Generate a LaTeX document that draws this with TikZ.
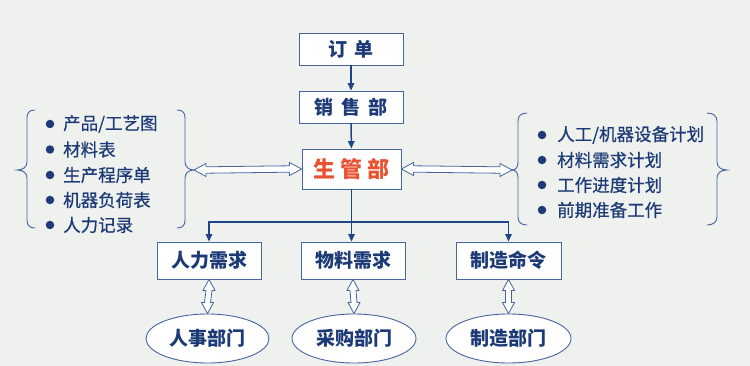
\documentclass[tikz,border=0pt]{standalone}
\usepackage{fontspec}
\setmainfont{Noto Sans CJK SC}
\newfontfamily\listfont[FakeBold=0.5]{Noto Sans CJK SC}
\usetikzlibrary{arrows.meta,shapes.geometric,calc}
\definecolor{bg}{RGB}{238,241,238}
\definecolor{tblue}{RGB}{28,58,118}
\definecolor{bblue}{RGB}{70,100,160}
\definecolor{lblue}{RGB}{30,70,135}
\definecolor{ored}{RGB}{232,82,48}
\newcommand\hollowH[2]{\draw[hol] let \p1=(#1), \p2=(#2) in (\x1,\y1) -- (\x1+12pt,\y1+6.5pt) -- (\x1+12pt,\y1+3.2pt) -- (\x2-12pt,\y2+3.2pt) -- (\x2-12pt,\y2+6.5pt) -- (\x2,\y2) -- (\x2-12pt,\y2-6.5pt) -- (\x2-12pt,\y2-3.2pt) -- (\x1+12pt,\y1-3.2pt) -- (\x1+12pt,\y1-6.5pt) -- cycle;}
\newcommand\hollowV[2]{\draw[hol] let \p1=(#1), \p2=(#2) in (\x1,\y1) -- (\x1+6pt,\y1-11pt) -- (\x1+3pt,\y1-11pt) -- (\x2+3pt,\y2+11pt) -- (\x2+6pt,\y2+11pt) -- (\x2,\y2) -- (\x2-6pt,\y2+11pt) -- (\x2-3pt,\y2+11pt) -- (\x1-3pt,\y1-11pt) -- (\x1-6pt,\y1-11pt) -- cycle;}
\tikzset{
  box/.style={draw=bblue, line width=0.9pt, fill=white, text=tblue, font=\bfseries\fontsize{19}{19}\selectfont, inner sep=0pt},
  ell/.style={ellipse, draw=bblue, line width=0.9pt, fill=white, text=tblue, font=\bfseries\fontsize{19}{19}\selectfont, inner sep=0pt},
  conn/.style={draw=lblue, line width=1.5pt, -{Triangle[length=7.5pt,width=6.5pt]}},
  hol/.style={draw=bblue, line width=0.8pt, fill=white, line join=miter},
  brc/.style={draw=bblue, line width=0.9pt},
  bul/.style={circle, fill=tblue, minimum size=8.5pt, inner sep=0pt},
  itm/.style={anchor=west, text=tblue, font=\listfont\fontsize{17.5}{17.5}\selectfont, inner sep=0pt},
}
\begin{document}
\begin{tikzpicture}[x=1pt,y=-1pt]
\fill[bg] (0,0) rectangle (750,366);
\useasboundingbox (0,0) rectangle (750,366);
% main boxes
\node[box, minimum width=104pt, minimum height=32pt] (order) at (351,49) {订\hspace{0.4em}单};
\node[box, minimum width=104pt, minimum height=32pt] (sales) at (351,107) {销\hspace{0.4em}售\hspace{0.4em}部};
\node[box, minimum width=99pt, minimum height=40pt, text=ored, font=\bfseries\fontsize{22}{22}\selectfont] (pmc) at (351.5,169) {生\hspace{0.22em}管\hspace{0.22em}部};
\node[box, minimum width=104pt, minimum height=37pt] (b1) at (209,260.5) {人力需求};
\node[box, minimum width=104pt, minimum height=37pt] (b2) at (353,260.5) {物料需求};
\node[box, minimum width=105pt, minimum height=37pt] (b3) at (508.5,260.5) {制造命令};
\node[ell, minimum width=123pt, minimum height=49pt] (e1) at (207.5,338.5) {人事部门};
\node[ell, minimum width=124pt, minimum height=49pt] (e2) at (354,338.5) {采购部门};
\node[ell, minimum width=125pt, minimum height=49pt] (e3) at (508.5,338.5) {制造部门};
% connectors
\draw[conn] (order) -- (sales);
\draw[conn] (sales) -- (pmc);
\coordinate (j) at (351,222);
\draw[conn] (pmc.south) -- (pmc.south |- b2.north);
\draw[conn] (j) -| (b1.north);
\draw[conn] (j) -| (b3.north);
\hollowV{b1.south}{e1.north}
\hollowV{b2.south}{e2.north}
\hollowV{b3.south}{e3.north}
% braces
\draw[brc] (35,110) .. controls (29,110) and (27,113) .. (27,118) -- (27,162) .. controls (27,167) and (23,170) .. (17,170) .. controls (23,170) and (27,173) .. (27,178) -- (27,220) .. controls (27,225) and (29,228) .. (35,228);
\draw[brc] (177,110) .. controls (183,110) and (185,113) .. (185,118) -- (185,162) .. controls (185,167) and (189,170) .. (194,170) .. controls (189,170) and (185,173) .. (185,178) -- (185,220) .. controls (185,225) and (183,228) .. (177,228);
\draw[brc] (527,113) .. controls (521,113) and (518,116) .. (518,121) -- (518,162) .. controls (518,167) and (516,170) .. (512,170) .. controls (516,170) and (518,173) .. (518,178) -- (518,217) .. controls (518,222) and (521,225) .. (527,225);
\draw[brc] (707,113) .. controls (713,113) and (717,116) .. (717,121) -- (717,162) .. controls (717,167) and (721,170) .. (727,170) .. controls (721,170) and (717,173) .. (717,178) -- (717,217) .. controls (717,222) and (713,225) .. (707,225);
\coordinate (lt) at (194,170);
\coordinate (rt) at (512,170);
\hollowH{lt}{pmc.west}
\hollowH{pmc.east}{rt}
% left list
\node[bul] (lb1) at (50,124) {}; \node[itm] (l1) at (63,124) {产品/工艺图};
\node[bul] (lb2) at (50,149.5) {}; \node[itm] (l2) at (63,149.5) {材料表};
\node[bul] (lb3) at (50,175) {}; \node[itm] (l3) at (63,175) {生产程序单};
\node[bul] (lb4) at (50,200) {}; \node[itm] (l4) at (63,200) {机器负荷表};
\node[bul] (lb5) at (50,225) {}; \node[itm] (l5) at (63,225) {人力记录};
% right list
\node[bul] (rb1) at (542,135) {}; \node[itm] (r1) at (557,135) {人工/机器设备计划};
\node[bul] (rb2) at (542,160) {}; \node[itm] (r2) at (557,160) {材料需求计划};
\node[bul] (rb3) at (542,185) {}; \node[itm] (r3) at (557,185) {工作进度计划};
\node[bul] (rb4) at (542,210) {}; \node[itm] (r4) at (557,210) {前期准备工作};
\end{tikzpicture}
\end{document}
